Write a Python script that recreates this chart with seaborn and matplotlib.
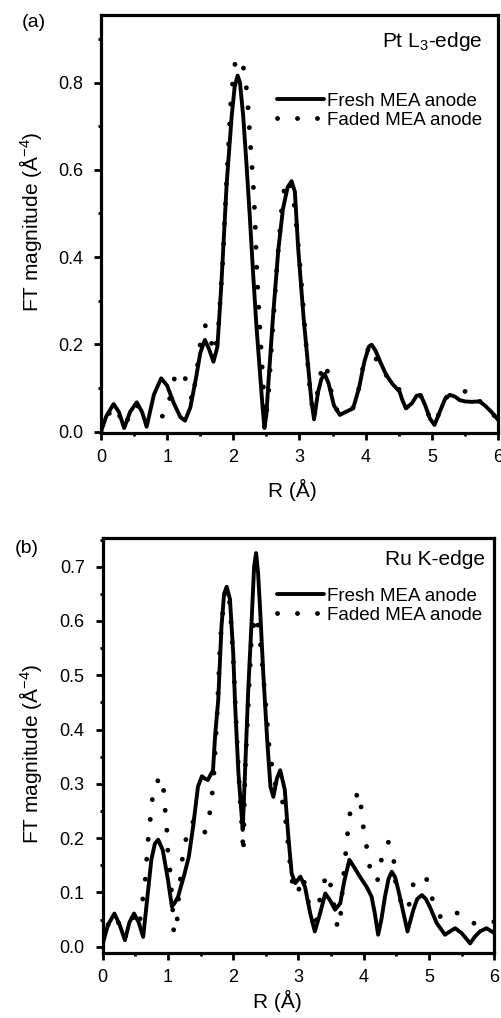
import numpy as np
import pandas as pd
import matplotlib
matplotlib.use("Agg")
import matplotlib.pyplot as plt
from matplotlib.ticker import MultipleLocator, FormatStrFormatter
import seaborn as sns

# ---------------- data ----------------
# Panel (a) Pt L3-edge
pt_fresh_r = [0.00, 0.08, 0.19, 0.27, 0.35, 0.44, 0.54, 0.62, 0.69, 0.80, 0.91, 1.00, 1.10, 1.20, 1.27,
              1.35, 1.44, 1.50, 1.57, 1.63, 1.70, 1.76, 1.82, 1.90, 1.975, 2.02, 2.065, 2.10, 2.15, 2.20,
              2.25, 2.30, 2.35, 2.40, 2.44, 2.47, 2.50, 2.53, 2.60, 2.68, 2.75, 2.82, 2.88, 2.93, 2.98,
              3.06, 3.13, 3.18, 3.22, 3.28, 3.33, 3.38, 3.44, 3.52, 3.61, 3.70, 3.81, 3.90, 3.98, 4.05,
              4.09, 4.15, 4.22, 4.31, 4.40, 4.51, 4.56, 4.61, 4.70, 4.77, 4.83, 4.90, 4.97, 5.04, 5.12,
              5.20, 5.27, 5.35, 5.42, 5.50, 5.60, 5.72, 5.80, 5.90, 6.00]
pt_fresh_ft = [0.000, 0.035, 0.063, 0.045, 0.008, 0.045, 0.067, 0.045, 0.011, 0.085, 0.122, 0.105, 0.065, 0.033, 0.025,
               0.055, 0.126, 0.180, 0.210, 0.190, 0.160, 0.195, 0.340, 0.570, 0.723, 0.790, 0.816, 0.800, 0.722, 0.610,
               0.490, 0.360, 0.240, 0.140, 0.060, 0.008, 0.040, 0.112, 0.264, 0.417, 0.510, 0.560, 0.574, 0.550, 0.420,
               0.264, 0.150, 0.070, 0.028, 0.090, 0.120, 0.132, 0.110, 0.060, 0.038, 0.045, 0.053, 0.100, 0.160, 0.195,
               0.199, 0.185, 0.160, 0.130, 0.110, 0.092, 0.070, 0.053, 0.065, 0.082, 0.084, 0.060, 0.030, 0.015, 0.045,
               0.075, 0.084, 0.080, 0.072, 0.069, 0.068, 0.069, 0.060, 0.045, 0.027]

pt_faded_r = [0.00, 0.08, 0.19, 0.27, 0.35, 0.44, 0.54, 0.62, 0.69, 0.78, 0.85, 0.92, 1.00, 1.07, 1.14,
              1.20, 1.27, 1.33, 1.38, 1.44, 1.50, 1.58, 1.63, 1.67, 1.72, 1.78, 1.84, 1.90, 1.96, 2.01,
              2.06, 2.10, 2.165, 2.20, 2.225, 2.25, 2.30, 2.33, 2.35, 2.38, 2.42, 2.45, 2.48, 2.52, 2.58,
              2.66, 2.73, 2.79, 2.85, 2.92, 2.98, 3.04, 3.10, 3.16, 3.22, 3.28, 3.33, 3.40, 3.45, 3.52,
              3.61, 3.70, 3.81, 3.90, 3.98, 4.05, 4.10, 4.15, 4.21, 4.30, 4.40, 4.46, 4.52, 4.60, 4.70,
              4.77, 4.83, 4.90, 4.97, 5.04, 5.12, 5.20, 5.27, 5.35, 5.45, 5.56, 5.65, 5.72, 5.80, 5.90, 6.00]
pt_faded_ft = [0.000, 0.030, 0.058, 0.040, 0.010, 0.040, 0.062, 0.045, 0.015, 0.030, 0.032, 0.034, 0.046, 0.100, 0.138,
               0.135, 0.123, 0.095, 0.070, 0.130, 0.200, 0.244, 0.225, 0.203, 0.180, 0.250, 0.390, 0.580, 0.750, 0.835,
               0.858, 0.848, 0.830, 0.784, 0.738, 0.677, 0.570, 0.480, 0.387, 0.296, 0.188, 0.112, 0.030, 0.060, 0.200,
               0.380, 0.510, 0.578, 0.570, 0.520, 0.430, 0.320, 0.200, 0.090, 0.030, 0.100, 0.140, 0.157, 0.115, 0.060,
               0.040, 0.045, 0.055, 0.100, 0.165, 0.195, 0.195, 0.170, 0.143, 0.130, 0.120, 0.115, 0.090, 0.055, 0.065,
               0.080, 0.082, 0.060, 0.030, 0.018, 0.045, 0.075, 0.085, 0.085, 0.090, 0.094, 0.075, 0.070, 0.060, 0.045, 0.025]

# Panel (b) Ru K-edge
ru_fresh_r = [0.00, 0.08, 0.18, 0.26, 0.34, 0.41, 0.48, 0.55, 0.62, 0.68, 0.745, 0.80, 0.85, 0.92, 1.00,
              1.06, 1.10, 1.155, 1.255, 1.32, 1.385, 1.46, 1.52, 1.56, 1.61, 1.69, 1.725, 1.77, 1.82, 1.86,
              1.90, 1.95, 2.00, 2.03, 2.08, 2.13, 2.145, 2.18, 2.23, 2.28, 2.32, 2.35, 2.38, 2.41, 2.46,
              2.52, 2.57, 2.615, 2.67, 2.72, 2.79, 2.84, 2.895, 2.95, 3.03, 3.10, 3.18, 3.25, 3.33, 3.41,
              3.48, 3.56, 3.64, 3.70, 3.78, 3.86, 3.94, 4.045, 4.12, 4.17, 4.22, 4.27, 4.325, 4.38, 4.43,
              4.48, 4.53, 4.61, 4.67, 4.76, 4.82, 4.89, 4.95, 5.01, 5.12, 5.245, 5.32, 5.40, 5.50, 5.63,
              5.70, 5.78, 5.88, 6.00]
ru_fresh_ft = [0.005, 0.040, 0.061, 0.040, 0.012, 0.045, 0.061, 0.045, 0.018, 0.086, 0.160, 0.190, 0.197, 0.178, 0.123,
               0.074, 0.080, 0.092, 0.135, 0.166, 0.221, 0.295, 0.314, 0.310, 0.307, 0.325, 0.393, 0.454, 0.590, 0.650,
               0.663, 0.640, 0.540, 0.442, 0.319, 0.240, 0.215, 0.319, 0.473, 0.596, 0.700, 0.725, 0.690, 0.626, 0.504,
               0.381, 0.295, 0.276, 0.310, 0.325, 0.289, 0.209, 0.135, 0.117, 0.129, 0.110, 0.061, 0.028, 0.061, 0.098,
               0.086, 0.068, 0.080, 0.120, 0.160, 0.145, 0.129, 0.110, 0.092, 0.061, 0.022, 0.050, 0.092, 0.125, 0.138,
               0.128, 0.104, 0.061, 0.028, 0.068, 0.088, 0.095, 0.088, 0.074, 0.043, 0.022, 0.028, 0.034, 0.025, 0.006,
               0.018, 0.028, 0.034, 0.025]

ru_faded_r = [0.00, 0.08, 0.18, 0.26, 0.34, 0.41, 0.50, 0.56, 0.60, 0.643, 0.668, 0.683, 0.72, 0.745, 0.786,
              0.888, 0.95, 0.96, 0.99, 1.00, 1.04, 1.06, 1.077, 1.09, 1.14, 1.16, 1.215, 1.27, 1.33, 1.38,
              1.46, 1.55, 1.62, 1.665, 1.70, 1.75, 1.80, 1.86, 1.90, 1.95, 2.00, 2.05, 2.10, 2.14, 2.155,
              2.18, 2.24, 2.28, 2.33, 2.35, 2.40, 2.46, 2.51, 2.55, 2.62, 2.68, 2.74, 2.79, 2.84, 2.87,
              2.92, 2.99, 3.05, 3.10, 3.18, 3.25, 3.33, 3.43, 3.51, 3.56, 3.60, 3.63, 3.655, 3.675, 3.73,
              3.76, 3.80, 3.92, 3.97, 4.00, 4.055, 4.10, 4.16, 4.22, 4.27, 4.375, 4.46, 4.48, 4.55, 4.62,
              4.70, 4.76, 4.85, 4.95, 5.03, 5.14, 5.25, 5.42, 5.55, 5.68, 5.82, 5.96, 6.00]
ru_faded_ft = [0.005, 0.040, 0.058, 0.040, 0.015, 0.045, 0.058, 0.040, 0.075, 0.112, 0.147, 0.184, 0.221, 0.258, 0.294,
               0.314, 0.278, 0.241, 0.206, 0.169, 0.132, 0.087, 0.061, 0.023, 0.049, 0.086, 0.158, 0.195, 0.225, 0.230,
               0.222, 0.206, 0.230, 0.267, 0.310, 0.420, 0.560, 0.645, 0.660, 0.630, 0.530, 0.400, 0.280, 0.209, 0.172,
               0.320, 0.470, 0.571, 0.600, 0.610, 0.580, 0.500, 0.430, 0.368, 0.310, 0.285, 0.276, 0.246, 0.190, 0.153,
               0.104, 0.097, 0.130, 0.115, 0.065, 0.030, 0.090, 0.135, 0.107, 0.060, 0.034, 0.036, 0.074, 0.110, 0.181,
               0.218, 0.255, 0.286, 0.249, 0.212, 0.177, 0.140, 0.120, 0.124, 0.160, 0.193, 0.160, 0.123, 0.090, 0.065,
               0.079, 0.116, 0.128, 0.130, 0.095, 0.058, 0.050, 0.063, 0.050, 0.043, 0.045, 0.046, 0.046]

series_labels = ["Fresh MEA anode", "Faded MEA anode"]
edge_labels = ["Pt L$_3$-edge", "Ru K-edge"]
panel_labels = ["(a)", "(b)"]

# ---------------- style ----------------
sns.set_theme(style="ticks")
plt.rcParams["font.family"] = ["Liberation Sans", "DejaVu Sans"]
plt.rcParams["mathtext.fontset"] = "custom"
plt.rcParams["mathtext.rm"] = "Liberation Sans"
plt.rcParams["mathtext.it"] = "Liberation Sans:italic"
plt.rcParams["mathtext.bf"] = "Liberation Sans:bold"

fig = plt.figure(figsize=(5.01, 10.18), dpi=100)
ax1 = fig.add_axes([0.2016, 0.5744, 0.7924, 0.4109])
ax2 = fig.add_axes([0.2050, 0.0642, 0.7816, 0.4069])

panels = [
    (ax1, pt_fresh_r, pt_fresh_ft, pt_faded_r, pt_faded_ft, (-0.004, 0.955), 0.2, 0.1),
    (ax2, ru_fresh_r, ru_fresh_ft, ru_faded_r, ru_faded_ft, (-0.011, 0.752), 0.1, 0.05),
]

for i, (ax, fr, ff, dr, df, ylim, ymaj, ymin) in enumerate(panels):
    sns.lineplot(x=fr, y=ff, ax=ax, color="black", linewidth=2.8, label=series_labels[0],
                 sort=False, solid_capstyle="round", solid_joinstyle="round")
    sns.lineplot(x=dr, y=df, ax=ax, color="black", linewidth=3.5, label=series_labels[1],
                 sort=False, linestyle=(0, (0.01, 4.1)), dash_capstyle="round")
    ax.set_xlim(0, 6)
    ax.set_ylim(*ylim)
    ax.xaxis.set_major_locator(MultipleLocator(1))
    ax.xaxis.set_minor_locator(MultipleLocator(0.5))
    ax.yaxis.set_major_locator(MultipleLocator(ymaj))
    ax.yaxis.set_minor_locator(MultipleLocator(ymin))
    ax.yaxis.set_major_formatter(FormatStrFormatter("%.1f"))
    ax.xaxis.set_major_formatter(FormatStrFormatter("%d"))
    for s in ax.spines.values():
        s.set_linewidth(2.3)
        s.set_color("black")
        s.set_visible(True)
    ax.tick_params(which="major", direction="out", length=5, width=2.0, color="black",
                   labelsize=13, labelcolor="black")
    ax.tick_params(axis="y", which="major", pad=8)
    ax.tick_params(axis="x", which="major", pad=6.5)
    ax.tick_params(which="minor", direction="out", length=2.5, width=2.0, color="black")
    ax.set_xlabel("R (Å)", fontsize=15, color="black")
    ax.set_ylabel("FT magnitude (Å$^{-4}$)", fontsize=15, color="black")
    ax.yaxis.label.set_verticalalignment("center")
    ax.grid(False)
    ax.set_facecolor("white")

    leg = ax.legend(loc="upper left", bbox_to_anchor=(0.553, [0.909, 0.423][i]),
                    bbox_transform=fig.transFigure, frameon=False, fontsize=13.5,
                    handlelength=2.5, handletextpad=0.15, labelspacing=0.1,
                    borderpad=0, borderaxespad=0)
    for t in leg.get_texts():
        t.set_color("black")

ax1.xaxis.set_label_coords(0.482, -0.110)
ax2.xaxis.set_label_coords(0.447, -0.090)
ax1.yaxis.set_label_coords(-0.178, 0.505)
ax2.yaxis.set_label_coords(-0.184, 0.48)

ax1.text(0.962, 0.924, edge_labels[0], transform=ax1.transAxes, ha="right", va="baseline",
         fontsize=15, color="black")
ax2.text(0.976, 0.936, edge_labels[1], transform=ax2.transAxes, ha="right", va="baseline",
         fontsize=15, color="black")

fig.text(22 / 501, 0.9735, panel_labels[0], ha="left", va="baseline", fontsize=14, color="black")
fig.text(15 / 501, 0.4568, panel_labels[1], ha="left", va="baseline", fontsize=14, color="black")

fig.savefig("out.png", dpi=100, facecolor="white")
